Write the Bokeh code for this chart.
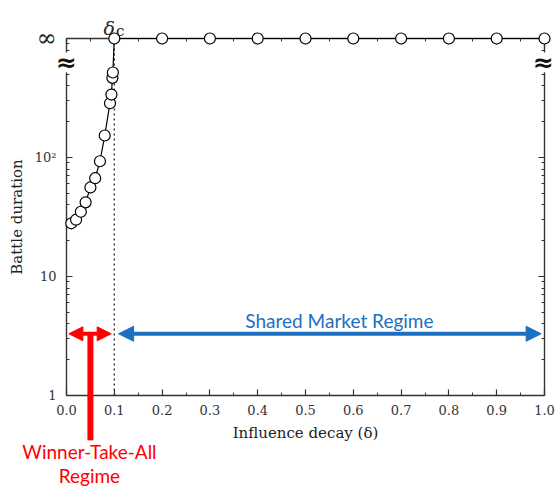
from bokeh.plotting import figure
from bokeh.models import Range1d, FixedTicker, LinearAxis, LogAxis, Arrow, NormalHead, Span
from bokeh.core.properties import value
from bokeh.embed import file_html
from bokeh.resources import INLINE

# ---- data ----
INF_LEVEL = 1000  # plotted position of the "∞" level (top of the axis)

decay_finite = [0.01, 0.02, 0.03, 0.04, 0.05, 0.06, 0.07, 0.08, 0.091, 0.094, 0.096, 0.097]
duration_finite = [28, 30, 35, 42, 56, 67, 93, 153, 286, 338, 467, 518]

decay_infinite = [0.1, 0.2, 0.3, 0.4, 0.5, 0.6, 0.7, 0.8, 0.9, 1.0]
duration_infinite = [1000, 1000, 1000, 1000, 1000, 1000, 1000, 1000, 1000, 1000]

critical_decay = 0.1

x_ticks = [0.0, 0.1, 0.2, 0.3, 0.4, 0.5, 0.6, 0.7, 0.8, 0.9, 1.0]
x_tick_labels = ["0.0", "0.1", "0.2", "0.3", "0.4", "0.5", "0.6", "0.7", "0.8", "0.9", "1.0"]
x_minor = [0.05, 0.15, 0.25, 0.35, 0.45, 0.55, 0.65, 0.75, 0.85, 0.95]
y_ticks = [1, 10, 100]
y_tick_labels = ["1", "10", "10²"]
y_minor = [2, 3, 4, 5, 6, 7, 8, 9, 20, 30, 40, 50, 60, 70, 80, 90,
           200, 300, 400, 500, 600, 700, 800, 900]

all_x = decay_finite + decay_infinite
all_y = duration_finite + duration_infinite

SERIF = "DejaVu Serif"
AX = "#333333"
RED = "#FF0000"
BLUE = "#1C6FC1"

p = figure(width=555, height=489, x_range=Range1d(0, 1), y_range=Range1d(1, INF_LEVEL),
           y_axis_type="log", output_backend="svg", toolbar_location=None,
           min_border_left=66, min_border_right=11, min_border_top=38, min_border_bottom=94)
p.grid.visible = False
p.outline_line_color = None
p.background_fill_color = "white"
p.border_fill_color = "white"

bottom_ax = p.below[0]
left_ax = p.left[0]

xt = FixedTicker(ticks=x_ticks, minor_ticks=x_minor)
yt = FixedTicker(ticks=y_ticks, minor_ticks=y_minor)
bottom_ax.ticker = xt
left_ax.ticker = yt

top_ax = LinearAxis(ticker=xt)
right_ax = LogAxis(ticker=yt)
p.add_layout(top_ax, "above")
p.add_layout(right_ax, "right")

for ax in [bottom_ax, left_ax, top_ax, right_ax]:
    ax.axis_line_color = AX
    ax.axis_line_width = 1.4
    ax.major_tick_line_color = AX
    ax.minor_tick_line_color = AX
    ax.major_tick_line_width = 1.2
    ax.minor_tick_line_width = 1.0
    ax.major_tick_in = 6
    ax.major_tick_out = 0
    ax.minor_tick_in = 3
    ax.minor_tick_out = 0
    ax.major_label_text_font = SERIF
    ax.major_label_text_font_size = "13px"
    ax.major_label_text_color = AX
    ax.axis_label_text_font = SERIF
    ax.axis_label_text_font_style = "normal"
    ax.axis_label_text_color = "#222222"

for ax in [top_ax, right_ax]:
    ax.major_label_text_font_size = "1px"
    ax.major_label_text_alpha = 0
    ax.major_label_standoff = 0

bottom_ax.axis_label = "Influence decay (δ)"
bottom_ax.axis_label_text_font_size = "15px"
bottom_ax.major_label_standoff = 9
bottom_ax.axis_label_standoff = 6
bottom_ax.major_label_overrides = dict(zip(x_ticks, x_tick_labels))

left_ax.axis_label = "Battle duration"
left_ax.axis_label_text_font_size = "15px"
left_ax.major_label_standoff = 10
left_ax.axis_label_standoff = 6
left_ax.major_label_overrides = dict(zip(y_ticks, y_tick_labels))

# critical decay dotted line
p.add_layout(Span(location=critical_decay, dimension="height", line_color="#333333",
                  line_width=1.4, line_dash="2 3"))

# data
p.line(all_x, all_y, line_color="black", line_width=1.2, level="overlay")
p.scatter(all_x, all_y, marker="circle", size=11, fill_color="white",
          line_color="black", line_width=1.2, level="overlay")

# infinity label and delta_c (outside the frame -> overlay-level glyphs)
p.text(x=[0], y=[INF_LEVEL], text=["∞"], x_offset=-20, y_offset=-1,
       text_font=value(SERIF), text_font_size="24px", text_align="center",
       text_baseline="middle", text_color="#222222", level="overlay")
p.text(x=[critical_decay], y=[INF_LEVEL], text=["δ"], x_offset=-5, y_offset=-11,
       text_font=value(SERIF), text_font_style="italic", text_font_size="19px",
       text_align="center", text_baseline="alphabetic", text_color="#222222", level="overlay")
p.text(x=[critical_decay], y=[INF_LEVEL], text=["c"], x_offset=6, y_offset=-8,
       text_font=value(SERIF), text_font_size="15px",
       text_align="center", text_baseline="alphabetic", text_color="#222222", level="overlay")

# axis break marks
break_x = [0, 1]
break_y = [630, 630]
p.rect(x=break_x, y=break_y, width=16, height=20, width_units="screen", height_units="screen",
       fill_color="white", line_color=None, level="overlay")
p.text(x=break_x, y=break_y, text=["≈", "≈"], x_offset=[0, -1], text_font=value("DejaVu Sans"),
       text_font_style="bold", text_font_size="25px", text_align="center",
       text_baseline="middle", text_color="#111111", level="overlay")

# regime arrows
arrow_level = 3.3
p.add_layout(Arrow(x_start=0.005, y_start=arrow_level, x_end=0.0935, y_end=arrow_level,
                   line_color=RED, line_width=4,
                   start=NormalHead(size=14, fill_color=RED, line_color=RED),
                   end=NormalHead(size=14, fill_color=RED, line_color=RED)))
p.segment(x0=[0.05], y0=[arrow_level], x1=[0.05], y1=[0.42], line_color=RED,
          line_width=6, level="overlay")
p.add_layout(Arrow(x_start=0.109, y_start=arrow_level, x_end=0.993, y_end=arrow_level,
                   line_color=BLUE, line_width=4,
                   start=NormalHead(size=15, fill_color=BLUE, line_color=BLUE),
                   end=NormalHead(size=15, fill_color=BLUE, line_color=BLUE)))

p.text(x=[0.571], y=[arrow_level], y_offset=-13, text=["Shared Market Regime"],
       text_font=value("Lato"), text_font_size="19px", text_color=BLUE,
       text_align="center", text_baseline="middle", level="overlay")
p.text(x=[0.048, 0.048], y=[0.34, 0.213], text=["Winner-Take-All", "Regime"],
       text_font=value("Lato"), text_font_size="19px", text_color=RED,
       text_align="center", text_baseline="middle", level="overlay")

open("out.html", "w").write(file_html(p, INLINE))
